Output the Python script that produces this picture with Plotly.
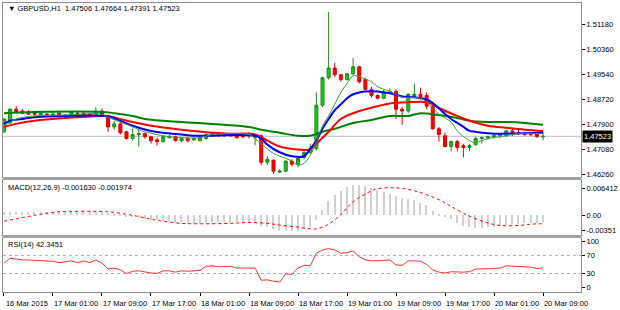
import plotly.graph_objects as go

# ---------------- data ----------------
tick_labels = ["16 Mar 2015", "17 Mar 01:00", "17 Mar 09:00", "17 Mar 17:00", "18 Mar 01:00",
               "18 Mar 09:00", "18 Mar 17:00", "19 Mar 01:00", "19 Mar 09:00", "19 Mar 17:00",
               "20 Mar 01:00", "20 Mar 09:00"]
tick_pos = [0, 8, 16, 24, 32, 40, 48, 56, 64, 72, 80, 88]

opens = [1.4767, 1.4796, 1.4841, 1.4835, 1.4832, 1.4828, 1.4822, 1.4825, 1.4822, 1.4828,
         1.4822, 1.4819, 1.4828, 1.4828, 1.4825, 1.4819, 1.4835, 1.4819, 1.4783, 1.4793,
         1.4767, 1.4745, 1.4758, 1.4761, 1.4751, 1.4741, 1.4735, 1.4748, 1.4751, 1.4738,
         1.4745, 1.4741, 1.4738, 1.4745, 1.4754, 1.4761, 1.4754, 1.4758, 1.4758, 1.4758,
         1.4758, 1.4748, 1.4754, 1.4667, 1.4674, 1.4635, 1.4638, 1.4671, 1.4661, 1.4683,
         1.4699, 1.4712, 1.4854, 1.4944, 1.4976, 1.4954, 1.4938, 1.4957, 1.4980, 1.4938,
         1.4906, 1.4886, 1.4877, 1.4896, 1.4899, 1.4841, 1.4835, 1.4883, 1.4890, 1.4886,
         1.4851, 1.4777, 1.4754, 1.4719, 1.4735, 1.4722, 1.4716, 1.4725, 1.4745, 1.4748,
         1.4751, 1.4754, 1.4754, 1.4770, 1.4764, 1.4764, 1.4761, 1.4761, 1.47506]
highs = [1.4812, 1.4844, 1.4851, 1.4841, 1.4838, 1.4832, 1.4832, 1.4828, 1.4832, 1.4832,
         1.4825, 1.4835, 1.4832, 1.4832, 1.4828, 1.4848, 1.4844, 1.4822, 1.4803, 1.4799,
         1.4770, 1.4777, 1.4777, 1.4764, 1.4754, 1.4748, 1.4754, 1.4758, 1.4754, 1.4748,
         1.4748, 1.4748, 1.4751, 1.4761, 1.4767, 1.4764, 1.4761, 1.4761, 1.4761, 1.4764,
         1.4767, 1.4758, 1.4758, 1.4687, 1.4677, 1.4645, 1.4674, 1.4677, 1.4683, 1.4706,
         1.4728, 1.4896, 1.4947, 1.5160, 1.4993, 1.4957, 1.4960, 1.5009, 1.4983, 1.4944,
         1.4915, 1.4890, 1.4906, 1.4909, 1.4906, 1.4848, 1.4893, 1.4925, 1.4912, 1.4896,
         1.4860, 1.4783, 1.4764, 1.4738, 1.4741, 1.4728, 1.4728, 1.4751, 1.4751, 1.4754,
         1.4758, 1.4761, 1.4774, 1.4777, 1.4774, 1.4767, 1.4764, 1.4764, 1.47664]
lows = [1.4764, 1.4793, 1.4828, 1.4825, 1.4822, 1.4819, 1.4819, 1.4819, 1.4819, 1.4819,
        1.4815, 1.4815, 1.4819, 1.4819, 1.4815, 1.4815, 1.4819, 1.4767, 1.4774, 1.4758,
        1.4741, 1.4738, 1.4719, 1.4745, 1.4728, 1.4722, 1.4732, 1.4745, 1.4735, 1.4732,
        1.4732, 1.4738, 1.4735, 1.4741, 1.4751, 1.4751, 1.4751, 1.4751, 1.4745, 1.4745,
        1.4745, 1.4722, 1.4658, 1.4658, 1.4629, 1.4632, 1.4635, 1.4654, 1.4651, 1.4677,
        1.4696, 1.4706, 1.4848, 1.4938, 1.4947, 1.4931, 1.4935, 1.4954, 1.4925, 1.4902,
        1.4880, 1.4873, 1.4873, 1.4890, 1.4809, 1.4790, 1.4828, 1.4880, 1.4873, 1.4841,
        1.4774, 1.4735, 1.4716, 1.4703, 1.4703, 1.4683, 1.4703, 1.4722, 1.4728, 1.4741,
        1.4745, 1.4745, 1.4751, 1.4754, 1.4758, 1.4754, 1.4754, 1.4748, 1.47391]
closes = [1.4809, 1.4841, 1.4832, 1.4828, 1.4825, 1.4825, 1.4828, 1.4822, 1.4825, 1.4822,
          1.4819, 1.4832, 1.4822, 1.4822, 1.4819, 1.4835, 1.4822, 1.4783, 1.4793, 1.4764,
          1.4745, 1.4758, 1.4761, 1.4751, 1.4738, 1.4735, 1.4751, 1.4751, 1.4738, 1.4745,
          1.4738, 1.4745, 1.4748, 1.4758, 1.4761, 1.4754, 1.4758, 1.4754, 1.4748, 1.4751,
          1.4754, 1.4754, 1.4667, 1.4677, 1.4638, 1.4638, 1.4671, 1.4661, 1.4680, 1.4699,
          1.4712, 1.4854, 1.4944, 1.4976, 1.4954, 1.4938, 1.4957, 1.4980, 1.4931, 1.4906,
          1.4886, 1.4877, 1.4896, 1.4899, 1.4841, 1.4835, 1.4890, 1.4890, 1.4883, 1.4851,
          1.4777, 1.4758, 1.4719, 1.4735, 1.4716, 1.4716, 1.4722, 1.4745, 1.4748, 1.4751,
          1.4754, 1.4758, 1.4770, 1.4761, 1.4761, 1.4758, 1.4758, 1.4751, 1.47523]
bars = list(range(len(closes)))

# moving averages (read at sample bars)
blue_idx = [0, 1, 3, 5, 10, 17, 19, 21, 24, 26, 29, 31, 41, 42, 43, 45, 47, 49, 50, 51,
            52, 53, 54, 55, 56, 57, 58, 59, 61, 63, 65, 67, 69, 70, 71, 72, 73, 74, 75, 76,
            77, 78, 80, 88]
blue_val = [1.4793, 1.4803, 1.4809, 1.4815, 1.4819, 1.4817, 1.4803, 1.4787, 1.4770, 1.4764,
            1.4758, 1.4754, 1.4754, 1.4745, 1.4725, 1.4700, 1.4687, 1.4687, 1.4712, 1.4738,
            1.4777, 1.4809, 1.4838, 1.4857, 1.4877, 1.4890, 1.4896, 1.4899, 1.4899, 1.4893,
            1.4883, 1.4880, 1.4873, 1.4861, 1.4844, 1.4825, 1.4809, 1.4796, 1.4783, 1.4770,
            1.4767, 1.4764, 1.4761, 1.4764]
red_idx = [0, 2, 5, 10, 16, 17, 19, 21, 24, 29, 34, 37, 41, 43, 45, 48, 50, 51, 53, 55,
           58, 61, 63, 66, 69, 70, 71, 74, 76, 79, 82, 85, 88]
red_val = [1.4783, 1.4793, 1.4803, 1.4812, 1.4819, 1.4819, 1.4809, 1.4799, 1.4787, 1.4774,
           1.4764, 1.4761, 1.4758, 1.4738, 1.4719, 1.4709, 1.4709, 1.4728, 1.4767, 1.4809,
           1.4835, 1.4851, 1.4860, 1.4864, 1.4864, 1.4857, 1.4845, 1.4819, 1.4803, 1.4787,
           1.4780, 1.4774, 1.4770]
dgreen_idx = [0, 5, 16, 18, 21, 23, 29, 34, 40, 42, 45, 48, 50, 52, 54, 57, 60, 63, 66, 68,
              71, 74, 76, 79, 82, 85, 88]
dgreen_val = [1.4828, 1.4832, 1.4832, 1.4828, 1.4819, 1.4809, 1.4799, 1.4793, 1.4783, 1.4774,
              1.4764, 1.4754, 1.4754, 1.4767, 1.4777, 1.4796, 1.4806, 1.4819, 1.4819, 1.4828,
              1.4822, 1.4812, 1.4803, 1.4799, 1.4799, 1.4796, 1.4790]
lgreen_idx = [0, 2, 5, 10, 16, 17, 19, 21, 23, 27, 29, 32, 34, 40, 41, 42, 44, 46, 47, 48,
              49, 50, 51, 52, 53, 54, 55, 56, 57, 58, 60, 61, 63, 65, 66, 68, 69, 71, 73, 74,
              76, 77, 79, 82, 84, 88]
lgreen_val = [1.4786, 1.4809, 1.4819, 1.4822, 1.4825, 1.4815, 1.4799, 1.4783, 1.4767, 1.4751,
              1.4748, 1.4748, 1.4758, 1.4758, 1.4745, 1.4728, 1.4696, 1.4680, 1.4671, 1.4658,
              1.4664, 1.4690, 1.4735, 1.4786, 1.4819, 1.4857, 1.4896, 1.4925, 1.4951, 1.4947,
              1.4931, 1.4915, 1.4899, 1.4880, 1.4880, 1.4877, 1.4864, 1.4825, 1.4799, 1.4770,
              1.4738, 1.4732, 1.4745, 1.4754, 1.4761, 1.4761]

macd_hist = [0.0007, 0.0008, 0.0009, 0.0009, 0.0009, 0.0009, 0.0009, 0.0009, 0.0009, 0.0009,
             0.0008, 0.0009, 0.0008, 0.0008, 0.0008, 0.0009, 0.0008, 0.0005, 0.0003, 0.0001,
             -0.0002, -0.0004, -0.0006, -0.0008, -0.0010, -0.0012, -0.0013, -0.0014, -0.0015, -0.0016,
             -0.0017, -0.0017, -0.0017, -0.0016, -0.0015, -0.0015, -0.0015, -0.0015, -0.0016, -0.0016,
             -0.0016, -0.0017, -0.0024, -0.0028, -0.0033, -0.0036, -0.0036, -0.0037, -0.0036, -0.0033,
             -0.0028, -0.0012, 0.0012, 0.0035, 0.0049, 0.0058, 0.0068, 0.0071, 0.0071, 0.0069,
             0.0065, 0.0061, 0.0056, 0.0051, 0.0046, 0.0040, 0.0038, 0.0036, 0.0030, 0.0024,
             0.0011, 0.0003, -0.0004, -0.0009, -0.0018, -0.0024, -0.0028, -0.0029, -0.0029, -0.0028,
             -0.0027, -0.0025, -0.0023, -0.0021, -0.0020, -0.0019, -0.0018, -0.0017, -0.00163]
sig_idx = [0, 5, 8, 10, 16, 18, 21, 24, 26, 29, 32, 37, 40, 43, 45, 48, 50, 51, 53, 55,
           57, 60, 61, 64, 67, 71, 73, 76, 79, 81, 84, 86, 88]
sig_val = [-0.0014, 0.0000, 0.0007, 0.0009, 0.0009, 0.0007, 0.0000, -0.0009, -0.0014, -0.0019,
           -0.0020, -0.0019, -0.0017, -0.0019, -0.0023, -0.0028, -0.0032, -0.0032, -0.0021, 0.0002,
           0.0032, 0.0058, 0.0063, 0.0065, 0.0058, 0.0037, 0.0021, -0.0002, -0.0018, -0.0024,
           -0.0024, -0.0021, -0.001974]

rsi = [53, 64, 62, 60, 60, 59, 59, 58, 57, 54,
       56, 58, 54, 58, 54, 60, 53, 40, 42, 38,
       30, 35, 36, 33, 31, 30, 36, 36, 33, 36,
       35, 36, 37, 46, 47, 45, 46, 46, 42, 42,
       42, 42, 15, 16, 13, 11, 29, 28, 42, 48,
       47, 75, 82, 85, 82, 75, 76, 80, 67, 60,
       58, 58, 59, 60, 49, 48, 58, 58, 57, 50,
       38, 33, 31, 34, 33, 33, 34, 40, 40, 41,
       41, 42, 47, 46, 46, 45, 44, 41, 42.3451]

price_ticks = [1.51180, 1.50360, 1.49540, 1.48720, 1.47900, 1.47080, 1.46260]
macd_ticks = [0.006412, 0.0, -0.00351]
macd_tick_text = ["0.006412", "0.00", "-0.00351"]
rsi_ticks = [100, 70, 30, 0]
last_price = 1.47523

# ---------------- figure ----------------
FONT = "Liberation Sans"
FS = 7.5
H_TOP, H_BOT = 2, 14
PH = 310 - H_TOP - H_BOT


def py(px):
    return (310 - H_BOT - px) / PH


fig = go.Figure()
fig.add_trace(go.Candlestick(
    x=bars, open=opens, high=highs, low=lows, close=closes,
    increasing=dict(fillcolor="#22c322", line=dict(color="#1a8c1a", width=1)),
    decreasing=dict(fillcolor="#ff0000", line=dict(color="#e00000", width=1)),
    whiskerwidth=0, showlegend=False, hoverinfo="skip", xaxis="x", yaxis="y"))
fig.add_trace(go.Scatter(x=dgreen_idx, y=dgreen_val, mode="lines", line=dict(color="#008000", width=2, shape="spline"),
                         xaxis="x", yaxis="y", showlegend=False))
fig.add_trace(go.Scatter(x=red_idx, y=red_val, mode="lines", line=dict(color="#ff0000", width=2, shape="spline"),
                         xaxis="x", yaxis="y", showlegend=False))
fig.add_trace(go.Scatter(x=blue_idx, y=blue_val, mode="lines", line=dict(color="#0000ff", width=2, shape="spline"),
                         xaxis="x", yaxis="y", showlegend=False))
fig.add_trace(go.Scatter(x=lgreen_idx, y=lgreen_val, mode="lines", line=dict(color="#3a9e3a", width=1, shape="spline"),
                         xaxis="x", yaxis="y", showlegend=False))

fig.add_trace(go.Bar(x=bars, y=macd_hist, width=0.22, marker=dict(color="#d0d0d0", line=dict(width=0)),
                     xaxis="x2", yaxis="y2", showlegend=False))
fig.add_trace(go.Scatter(x=sig_idx, y=sig_val, mode="lines", line=dict(color="#ff0000", width=1, dash="dot", shape="spline"),
                         xaxis="x2", yaxis="y2", showlegend=False))

fig.add_trace(go.Scatter(x=bars, y=rsi, mode="lines", line=dict(color="#ff3030", width=1),
                         xaxis="x3", yaxis="y3", showlegend=False))

xr = [-0.16, 94.2]
ax_common = dict(showgrid=False, zeroline=False, showline=True, mirror=True,
                 linecolor="#8c8c8c", linewidth=1)
yax_common = dict(ax_common, side="right", ticks="outside", ticklen=3, tickcolor="#000000",
                  tickfont=dict(family=FONT, size=FS, color="#000000"))

fig.update_layout(
    width=620, height=310,
    margin=dict(l=2, r=33, t=H_TOP, b=H_BOT),
    paper_bgcolor="white", plot_bgcolor="white",
    bargap=0, showlegend=False,
    xaxis=dict(ax_common, domain=[0, 1], range=xr, anchor="y", showticklabels=False, ticks="",
               rangeslider=dict(visible=False)),
    xaxis2=dict(ax_common, domain=[0, 1], range=xr, anchor="y2", matches="x", showticklabels=False, ticks=""),
    xaxis3=dict(ax_common, domain=[0, 1], range=xr, anchor="y3", matches="x",
                tickmode="array", tickvals=tick_pos, ticktext=tick_labels,
                ticks="outside", ticklen=3, tickcolor="#000000", ticklabelshift=23, ticklabelstandoff=1,
                tickfont=dict(family=FONT, size=FS, color="#000000")),
    yaxis=dict(yax_common, domain=[py(179), 1], range=[1.46190, 1.51890], anchor="x",
               tickmode="array", tickvals=price_ticks, ticktext=["%.5f" % v for v in price_ticks]),
    yaxis2=dict(yax_common, domain=[py(238), py(182)], range=[-0.00465, 0.00837], anchor="x2",
                tickmode="array", tickvals=macd_ticks, ticktext=macd_tick_text),
    yaxis3=dict(yax_common, domain=[0, py(241)], range=[-10.9, 108.7], anchor="x3",
                tickmode="array", tickvals=rsi_ticks, ticktext=[str(v) for v in rsi_ticks]),
)

shapes = []
# separators between panels
for a, b in [(179, 182), (238, 241)]:
    shapes.append(dict(type="rect", xref="paper", yref="paper", x0=0, x1=1, y0=py(b), y1=py(a),
                       fillcolor="#a0a0a0", line=dict(width=0), layer="above"))
# current price line
shapes.append(dict(type="line", xref="paper", yref="y", x0=0, x1=1, y0=last_price, y1=last_price,
                   line=dict(color="#c0c0c0", width=1), layer="below"))
# RSI levels
for lv in [70, 30]:
    shapes.append(dict(type="line", xref="paper", yref="y3", x0=0, x1=1, y0=lv, y1=lv,
                       line=dict(color="#b0b0b0", width=1, dash="dot"), layer="below"))
fig.update_layout(shapes=shapes)

ann_font = dict(family=FONT, size=FS, color="#000000")
fig.add_annotation(xref="paper", yref="paper", x=0, y=py(8), xanchor="left", yanchor="middle", xshift=3,
                   text="▼ GBPUSD,H1  1.47506 1.47664 1.47391 1.47523", showarrow=False, font=ann_font)
fig.add_annotation(xref="paper", yref="paper", x=0, y=py(190), xanchor="left", yanchor="middle", xshift=3,
                   text="MACD(12,26,9) -0.001630 -0.001974", showarrow=False, font=ann_font)
fig.add_annotation(xref="paper", yref="paper", x=0, y=py(248), xanchor="left", yanchor="middle", xshift=3,
                   text="RSI(14) 42.3451", showarrow=False, font=ann_font)
fig.add_annotation(xref="paper", yref="y", x=1, y=last_price, xanchor="left", yanchor="middle", xshift=1,
                   text="1.47523", showarrow=False, bgcolor="#000000", borderpad=1,
                   font=dict(family=FONT, size=FS, color="#ffffff"))

fig.write_html("out.html")
